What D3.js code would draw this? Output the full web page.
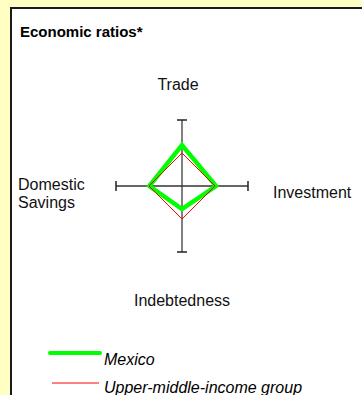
<!DOCTYPE html>
<html>
<head>
<meta charset="utf-8">
<script src="https://cdn.jsdelivr.net/npm/d3@7"></script>
<style>
  body { margin: 0; background: #ffffc4; }
  svg { display: block; font-family: "Liberation Sans", Arial, sans-serif; }
</style>
</head>
<body>
<svg id="chart" width="362" height="395"></svg>
<script>
// axes clockwise from the top
var axes = ["Trade", "Investment", "Indebtedness", "Domestic Savings"];
var mexico = [1.24, 1.03, 0.70, 0.99];
var upperMiddle = [1.0, 1.0, 1.0, 1.0];
var seriesNames = ["Mexico", "Upper-middle-income group"];

var svg = d3.select("#chart");
var cx = 182, cy = 186;

// white panel
svg.append("rect")
  .attr("x", 11).attr("y", 8)
  .attr("width", 362).attr("height", 400)
  .style("fill", "#ffffff")
  .style("stroke", "#1a1a1a")
  .style("stroke-width", 2);

svg.append("text")
  .attr("x", 20).attr("y", 37)
  .attr("font-size", "15px")
  .attr("font-weight", "bold")
  .text("Economic ratios*");

var r = d3.scaleLinear().domain([0, 2]).range([0, 66]);
var angle = d3.scaleLinear().domain([0, axes.length]).range([0, 2 * Math.PI]);

function pt(i, v) {
  var a = angle(i);
  return [cx + r(v) * Math.sin(a), cy - r(v) * Math.cos(a)];
}

// axis lines
var g = svg.append("g");
g.append("line")
  .attr("x1", pt(0, 2)[0]).attr("y1", pt(0, 2)[1])
  .attr("x2", pt(2, 2)[0]).attr("y2", pt(2, 2)[1])
  .style("stroke", "#808080").style("stroke-width", 2);
g.append("line")
  .attr("x1", pt(3, 2)[0]).attr("y1", pt(3, 2)[1])
  .attr("x2", pt(1, 2)[0]).attr("y2", pt(1, 2)[1])
  .style("stroke", "#333333").style("stroke-width", 1.3);

// end caps
axes.forEach(function(d, i) {
  var p = pt(i, 2), a = angle(i);
  var dx = 5 * Math.cos(a), dy = 5 * Math.sin(a);
  g.append("line")
    .attr("x1", p[0] - dx).attr("y1", p[1] - dy)
    .attr("x2", p[0] + dx).attr("y2", p[1] + dy)
    .style("stroke", "#222").style("stroke-width", 1.5);
});

var line = d3.line().curve(d3.curveLinearClosed);

svg.append("path")
  .attr("d", line(mexico.map(function(v, i) { return pt(i, v); })))
  .style("fill", "none")
  .style("stroke", "#00ff00")
  .style("stroke-width", 4.5)
  .style("stroke-linejoin", "miter");

svg.append("path")
  .attr("d", line(upperMiddle.map(function(v, i) { return pt(i, v); })))
  .style("fill", "none")
  .style("stroke", "#ff0000")
  .style("stroke-width", 1);

// axis labels
var lab = svg.append("g").attr("font-size", "16px").style("fill", "#111");
lab.append("text").attr("x", 178).attr("y", 90).attr("text-anchor", "middle").text(axes[0]);
lab.append("text").attr("x", 273).attr("y", 198).text(axes[1]);
lab.append("text").attr("x", 182).attr("y", 306).attr("text-anchor", "middle").text(axes[2]);
var ds = lab.append("text").attr("x", 18).attr("y", 190);
ds.append("tspan").attr("x", 18).text("Domestic");
ds.append("tspan").attr("x", 18).attr("dy", 18).text("Savings");

// legend
var leg = svg.append("g");
leg.append("line").attr("x1", 50).attr("x2", 100).attr("y1", 353).attr("y2", 353)
  .style("stroke", "#00ff00").style("stroke-width", 4).style("stroke-linecap", "round");
leg.append("text").attr("x", 104).attr("y", 365).attr("font-size", "16px")
  .attr("font-style", "italic").text(seriesNames[0]);
leg.append("line").attr("x1", 52).attr("x2", 99).attr("y1", 383).attr("y2", 383)
  .style("stroke", "#ff0000").style("stroke-width", 1);
leg.append("text").attr("x", 104).attr("y", 393).attr("font-size", "16px")
  .attr("font-style", "italic").text(seriesNames[1]);
</script>
</body>
</html>
